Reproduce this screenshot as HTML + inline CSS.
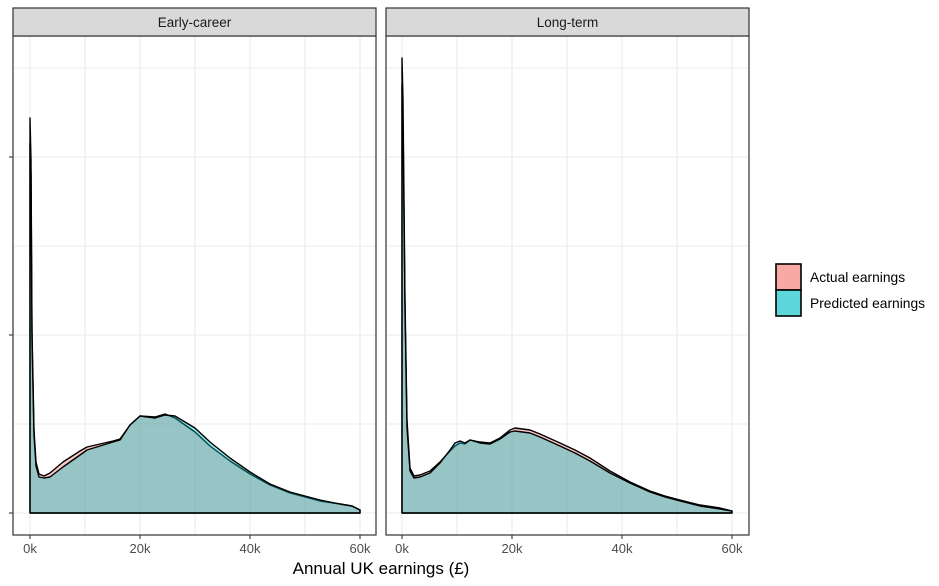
<!DOCTYPE html>
<html><head><meta charset="utf-8"><style>
html,body{margin:0;padding:0;background:#fff;}
svg{display:block;font-family:"Liberation Sans",sans-serif;}
</style></head><body>
<svg width="939" height="586" viewBox="0 0 939 586" xmlns="http://www.w3.org/2000/svg">
<rect width="939" height="586" fill="#fff"/>
<!-- Panel 1 -->
<g>
<rect x="13" y="36" width="363" height="499" fill="#fff"/>
<g stroke="#ebebeb" stroke-width="1.1">
<line x1="13" x2="376" y1="513" y2="513"/><line x1="13" x2="376" y1="424" y2="424"/><line x1="13" x2="376" y1="335" y2="335"/><line x1="13" x2="376" y1="246" y2="246"/><line x1="13" x2="376" y1="157" y2="157"/><line x1="13" x2="376" y1="68" y2="68"/>
<line y1="36" y2="535" x1="30" x2="30"/><line y1="36" y2="535" x1="85" x2="85"/><line y1="36" y2="535" x1="140" x2="140"/><line y1="36" y2="535" x1="195" x2="195"/><line y1="36" y2="535" x1="250" x2="250"/><line y1="36" y2="535" x1="305" x2="305"/><line y1="36" y2="535" x1="360" x2="360"/>
</g>
<path d="M30,513 L30,118 L31,160 L32,330 L34,430 L36,462 L39,474 L44,476 L50,473 L63,462 L80,451 L87,447 L100,444 L113,441 L120,439 L130,425 L140,416 L155,417 L165,414 L175,418 L185,425 L195,432 L210,446 L230,461 L250,474 L270,485 L290,493 L305,497 L320,501 L340,504 L352,506 L360,510 L360,513 Z" fill="rgba(248,118,109,0.4)" stroke="#000" stroke-width="1.4" stroke-linejoin="round"/>
<path d="M30,513 L30,143 L31,175 L32,340 L34,435 L36,466 L39,477 L44,478 L50,477 L63,467 L80,455 L87,450 L100,446 L113,442 L120,440 L130,425 L140,416 L155,418 L165,415 L175,416 L185,422 L195,428 L210,442 L230,458 L250,472 L270,484 L290,492 L305,496 L320,500 L340,504 L352,506 L360,510 L360,513 Z" fill="rgba(0,191,196,0.4)" stroke="#000" stroke-width="1.4" stroke-linejoin="round"/>
<rect x="13" y="36" width="363" height="499" fill="none" stroke="#333" stroke-width="1.2"/>
<rect x="13" y="8" width="363" height="28" fill="#d9d9d9" stroke="#333" stroke-width="1.2"/>
<text x="194.5" y="27" font-size="13.5" fill="#1a1a1a" text-anchor="middle">Early-career</text>
<g stroke="#333" stroke-width="1.1"><line x1="9" x2="13" y1="513" y2="513"/><line x1="9" x2="13" y1="335" y2="335"/><line x1="9" x2="13" y1="157" y2="157"/>
<line x1="30" x2="30" y1="535" y2="539"/><line x1="140" x2="140" y1="535" y2="539"/><line x1="250" x2="250" y1="535" y2="539"/><line x1="360" x2="360" y1="535" y2="539"/></g>
<g font-size="13" fill="#4d4d4d" text-anchor="middle"><text x="30" y="553">0k</text><text x="140" y="553">20k</text><text x="250" y="553">40k</text><text x="360" y="553">60k</text></g>
</g>
<!-- Panel 2 -->
<g>
<rect x="386" y="36" width="363" height="499" fill="#fff"/>
<g stroke="#ebebeb" stroke-width="1.1">
<line x1="386" x2="749" y1="513" y2="513"/><line x1="386" x2="749" y1="424" y2="424"/><line x1="386" x2="749" y1="335" y2="335"/><line x1="386" x2="749" y1="246" y2="246"/><line x1="386" x2="749" y1="157" y2="157"/><line x1="386" x2="749" y1="68" y2="68"/>
<line y1="36" y2="535" x1="402" x2="402"/><line y1="36" y2="535" x1="457" x2="457"/><line y1="36" y2="535" x1="512" x2="512"/><line y1="36" y2="535" x1="567" x2="567"/><line y1="36" y2="535" x1="622" x2="622"/><line y1="36" y2="535" x1="677" x2="677"/><line y1="36" y2="535" x1="732" x2="732"/>
</g>
<path d="M402,513 L402,58 L403,100 L405,300 L407,420 L410,468 L414,476 L420,475 L430,471 L440,462 L450,451 L455,446 L460,443 L465,444 L470,440 L480,442 L490,443 L500,438 L510,430 L515,428 L530,430 L540,434 L560,443 L575,450 L590,458 L610,471 L630,482 L650,491 L665,496 L680,500 L700,505 L720,508 L732,511 L732,513 Z" fill="rgba(248,118,109,0.4)" stroke="#000" stroke-width="1.4" stroke-linejoin="round"/>
<path d="M402,513 L402,85 L403,125 L405,310 L407,428 L410,471 L414,478 L420,477 L430,473 L440,463 L450,450 L455,443 L460,441 L465,443 L470,440 L480,443 L490,444 L500,439 L510,432 L515,431 L530,433 L540,437 L560,446 L575,453 L590,461 L610,473 L630,483 L650,492 L665,497 L680,501 L700,506 L720,509 L732,511 L732,513 Z" fill="rgba(0,191,196,0.4)" stroke="#000" stroke-width="1.4" stroke-linejoin="round"/>
<rect x="386" y="36" width="363" height="499" fill="none" stroke="#333" stroke-width="1.2"/>
<rect x="386" y="8" width="363" height="28" fill="#d9d9d9" stroke="#333" stroke-width="1.2"/>
<text x="567.5" y="27" font-size="13.5" fill="#1a1a1a" text-anchor="middle">Long-term</text>
<g stroke="#333" stroke-width="1.1">
<line x1="402" x2="402" y1="535" y2="539"/><line x1="512" x2="512" y1="535" y2="539"/><line x1="622" x2="622" y1="535" y2="539"/><line x1="732" x2="732" y1="535" y2="539"/></g>
<g font-size="13" fill="#4d4d4d" text-anchor="middle"><text x="402" y="553">0k</text><text x="512" y="553">20k</text><text x="622" y="553">40k</text><text x="732" y="553">60k</text></g>
</g>
<text x="381" y="574" font-size="17" fill="#000" text-anchor="middle">Annual UK earnings (£)</text>
<!-- Legend -->
<rect x="776" y="264" width="25" height="26" fill="#f9a8a3" stroke="#000" stroke-width="1.6"/>
<rect x="776" y="290" width="25" height="26" fill="#5ed7da" stroke="#000" stroke-width="1.6"/>
<text x="810" y="282" font-size="13.8" fill="#000">Actual earnings</text>
<text x="810" y="308" font-size="13.8" fill="#000">Predicted earnings</text>
</svg>
</body></html>
